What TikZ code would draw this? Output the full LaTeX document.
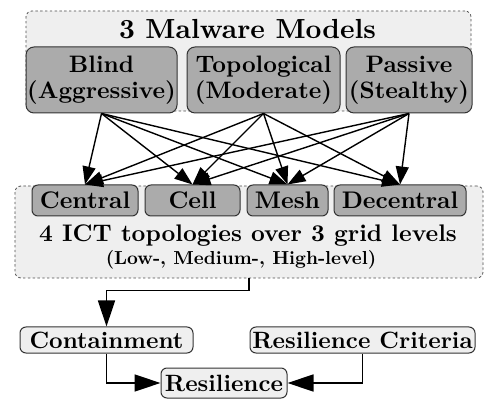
\documentclass[tikz,border=0pt]{standalone}
\usepackage{fontspec}
% one design size (10pt cut) at every size
\setmainfont{lmroman10-regular}[Extension=.otf, BoldFont=lmroman10-bold]
\usetikzlibrary{arrows.meta}

\definecolor{groupfill}{HTML}{EFEFEF}
\definecolor{boxfill}{HTML}{ABABAB}
\definecolor{stagefill}{HTML}{EFEFEF}

\tikzset{
  group/.style={draw=black!70, dash pattern=on 1.2pt off 1.2pt, fill=groupfill,
    rounded corners=3pt, line width=0.4pt, inner sep=0pt},
  heading/.style={inner sep=0pt, font=\bfseries\fontsize{12}{14}\selectfont},
  subheading/.style={inner sep=0pt, font=\bfseries\fontsize{9.4}{11}\selectfont},
  model/.style={draw=black!80, fill=boxfill, rounded corners=4pt, line width=0.5pt,
    align=center, inner sep=0pt, minimum height=33pt,
    font=\bfseries\fontsize{11.9}{13}\selectfont},
  topo/.style={draw=black!80, fill=boxfill, rounded corners=3pt, line width=0.5pt,
    inner sep=0pt, minimum height=15.5pt, font=\bfseries\fontsize{12}{14}\selectfont},
  stage/.style={draw=black!80, fill=stagefill, rounded corners=3pt, line width=0.5pt,
    inner sep=0pt, font=\bfseries\fontsize{11.8}{14}\selectfont},
  link/.style={-{Triangle[length=9pt,width=6.5pt]}, line width=0.7pt},
  flow/.style={-{Triangle[length=13pt,width=8.5pt]}, line width=0.7pt},
}

\begin{document}
\begin{tikzpicture}[x=0.5pt, y=-0.5pt]
\useasboundingbox (0,0) rectangle (485,399);

% malware models
\node[group, minimum width=222.5pt, minimum height=50pt] (models) at (248.5,61) {};
\node[heading, font=\bfseries\fontsize{13.8}{16}\selectfont] (mtitle) at (247.5,29.5) {3 Malware Models};
\node[model, minimum width=75.5pt] (blind) at (101.5,80) {Blind\\(Aggressive)};
\node[model, minimum width=76.5pt] (topol) at (263.5,80) {Topological\\(Moderate)};
\node[model, minimum width=63pt] (passive) at (409,80) {Passive\\(Stealthy)};

% ICT topologies
\node[group, minimum width=234pt, minimum height=46pt] (ict) at (249,232) {};
\node[topo, minimum width=53pt] (central) at (85,200.5) {Central};
\node[topo, minimum width=47.5pt] (cell) at (192.5,200.5) {Cell};
\node[topo, minimum width=40.5pt] (mesh) at (287.5,200.5) {Mesh};
\node[topo, minimum width=66pt] (decentral) at (400,200.5) {Decentral};
\node[heading] (ictdesc) at (248,236) {4 ICT topologies over 3 grid levels};
\node[subheading] (levels) at (241,260) {(Low-, Medium-, High-level)};

% evaluation stages
\node[stage, minimum width=86.5pt, minimum height=13pt] (contain) at (106.5,340) {Containment};
\node[stage, minimum width=112.5pt, minimum height=13pt] (criteria) at (362.5,340) {Resilience Criteria};
\node[stage, minimum width=63pt, minimum height=15pt] (resil) at (224,383) {Resilience};

% every malware model against every topology
\foreach \m in {blind,topol,passive}{
  \foreach \t in {central,cell,mesh,decentral}{
    \draw[link] (\m.south) -- (\t.north);
  }
}

% evaluation flow
\draw[flow] (ict.south) -- ++(0,12) -| (contain.north);
\draw[flow] (contain.south) |- (resil.west);
\draw[flow] (criteria.south) |- (resil.east);
\end{tikzpicture}
\end{document}
